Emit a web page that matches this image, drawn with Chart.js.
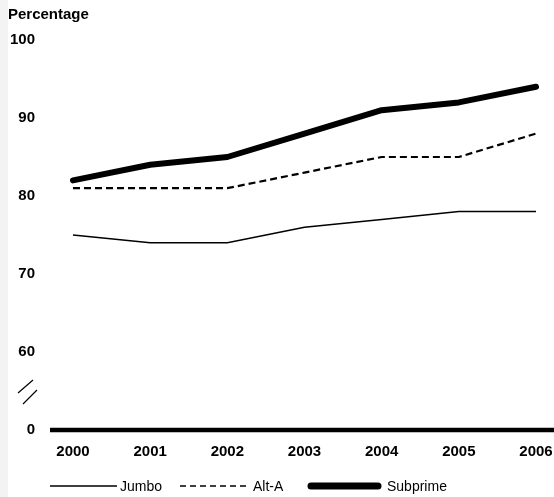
<!DOCTYPE html>
<html>
<head>
<meta charset="utf-8">
<script src="https://cdn.jsdelivr.net/npm/chart.js@4"></script>
<style>
  body { margin: 0; background: #fff; }
  canvas { display: block; }
</style>
</head>
<body>
<canvas id="chart" width="554" height="497"></canvas>
<script>
const years = ["2000", "2001", "2002", "2003", "2004", "2005", "2006"];
const jumbo = [75, 74, 74, 76, 77, 78, 78];
const altA = [81, 81, 81, 83, 85, 85, 88];
const subprime = [82, 84, 85, 88, 91, 92, 94];
const yTicks = [50, 60, 70, 80, 90, 100]; // 50 is drawn as "0" below the axis break

const FONT = "'Liberation Sans', Arial, Helvetica, sans-serif";

// title, axis break, thick base line and legend
const extras = {
    id: "extras",
    beforeDraw(chart) {
        const ctx = chart.ctx;
        ctx.save();
        ctx.fillStyle = "#f3f3f3";
        ctx.fillRect(0, 0, 8, chart.height);
        ctx.fillStyle = "#000";
        ctx.font = "bold 15px " + FONT;
        ctx.textBaseline = "middle";
        ctx.fillText("Percentage", 8, 15);
        ctx.restore();
    },
    afterDatasetsDraw(chart) {
        const ctx = chart.ctx;
        const y = chart.scales.y;
        ctx.save();
        // base line at the bottom of the axis
        ctx.strokeStyle = "#000";
        ctx.lineWidth = 4.5;
        ctx.beginPath();
        ctx.moveTo(50, y.bottom);
        ctx.lineTo(chart.width, y.bottom);
        ctx.stroke();
        // break marks
        const by = y.getPixelForValue(55);
        ctx.lineWidth = 1.2;
        ctx.beginPath();
        ctx.moveTo(33, by - 11);
        ctx.lineTo(18, by + 2);
        ctx.moveTo(37, by - 1);
        ctx.lineTo(23, by + 13);
        ctx.stroke();
        ctx.restore();
    },
    afterDraw(chart) {
        const ctx = chart.ctx;
        const ly = 486;
        ctx.save();
        ctx.fillStyle = "#000";
        ctx.strokeStyle = "#000";
        ctx.font = "14px " + FONT;
        ctx.textBaseline = "middle";
        const items = [
            { x0: 50, x1: 117, tx: 120, w: 1.5, dash: [], cap: "butt", label: "Jumbo" },
            { x0: 180, x1: 249, tx: 253, w: 1.5, dash: [6, 4], cap: "butt", label: "Alt-A" },
            { x0: 311, x1: 378, tx: 387, w: 7, dash: [], cap: "round", label: "Subprime" }
        ];
        items.forEach(it => {
            ctx.lineWidth = it.w;
            ctx.setLineDash(it.dash);
            ctx.lineCap = it.cap;
            ctx.beginPath();
            ctx.moveTo(it.x0, ly);
            ctx.lineTo(it.x1, ly);
            ctx.stroke();
            ctx.fillText(it.label, it.tx, ly + 1);
        });
        ctx.restore();
    }
};

const options = {
    type: "line",
    data: {
        labels: years,
        datasets: [
            {
                label: "Jumbo",
                data: jumbo,
                borderColor: "#000",
                borderWidth: 1.5,
                pointRadius: 0,
                tension: 0
            },
            {
                label: "Alt-A",
                data: altA,
                borderColor: "#000",
                borderWidth: 2.2,
                borderDash: [7, 4],
                pointRadius: 0,
                tension: 0
            },
            {
                label: "Subprime",
                data: subprime,
                borderColor: "#000",
                borderWidth: 6,
                borderCapStyle: "round",
                borderJoinStyle: "round",
                pointRadius: 0,
                tension: 0
            }
        ]
    },
    options: {
        responsive: false,
        animation: false,
        layout: { padding: { top: 40, right: 18, left: 0, bottom: 0 } },
        plugins: {
            legend: { display: false },
            tooltip: { enabled: false }
        },
        scales: {
            x: {
                offset: false,
                grid: { display: false, drawTicks: false },
                border: { display: false },
                ticks: {
                    color: "#000",
                    font: { family: FONT, size: 15, weight: "bold" },
                    padding: 13,
                    maxRotation: 0,
                    autoSkip: false
                },
                afterFit(scale) {
                    scale.height = 67;
                    scale.paddingLeft = 0;
                    scale.paddingRight = 0;
                }
            },
            y: {
                min: 50,
                max: 100,
                grid: { display: false, drawTicks: false },
                border: { display: false },
                afterBuildTicks(scale) { scale.ticks = yTicks.map(v => ({ value: v })); },
                ticks: {
                    color: "#000",
                    font: { family: FONT, size: 15, weight: "bold" },
                    padding: 38,
                    callback: v => (v === 50 ? "0" : String(v))
                },
                afterFit(scale) {
                    scale.width = 73;
                    scale.paddingTop = 0;
                    scale.paddingBottom = 0;
                }
            }
        }
    },
    plugins: [extras]
};

// eslint-disable-next-line no-unused-vars
let chart = new Chart(document.querySelector("#chart").getContext("2d"), options);
</script>
</body>
</html>
